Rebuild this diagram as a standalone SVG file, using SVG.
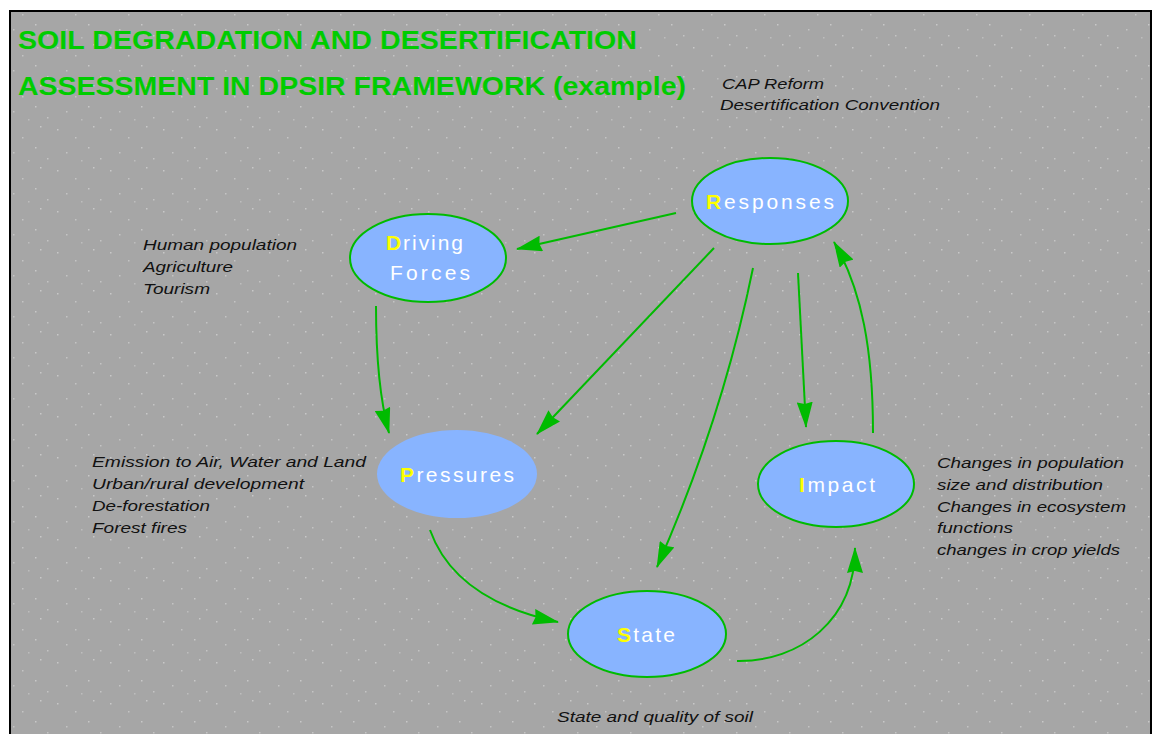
<svg xmlns="http://www.w3.org/2000/svg" width="1157" height="734" viewBox="0 0 1157 734">
<defs>
<pattern id="dots" x="0" y="0" width="53" height="41" patternUnits="userSpaceOnUse">
<rect x="4" y="6" width="1.5" height="1.5" fill="#c8c8c8"/>
<rect x="22" y="14" width="1.5" height="1.5" fill="#c4c4c4"/>
<rect x="40" y="3" width="1.5" height="1.5" fill="#c8c8c8"/>
<rect x="13" y="29" width="1.5" height="1.5" fill="#c4c4c4"/>
<rect x="35" y="24" width="1.5" height="1.5" fill="#c8c8c8"/>
<rect x="47" y="35" width="1.5" height="1.5" fill="#c4c4c4"/>
<rect x="28" y="37" width="1.5" height="1.5" fill="#bdbdbd"/>
</pattern>
<marker id="ah" viewBox="0 0 26 16" markerWidth="26" markerHeight="16" refX="25" refY="8" orient="auto" markerUnits="userSpaceOnUse">
<path d="M0,0 L26,8 L0,16 L2,8 z" fill="#00bb00"/>
</marker>
<style>
.title{font-family:"Liberation Sans Narrow","Liberation Sans",Arial,sans-serif;font-weight:bold;font-size:26px;fill:#00cc00}
.node{fill:#88b4ff;stroke:#00bb00;stroke-width:2}
.nodeNo{fill:#88b4ff}
.lbl{font-family:"Liberation Sans",Arial,sans-serif;font-size:21px;fill:#ffffff}
.ini{fill:#ffff00;font-weight:bold}
.note{font-family:"Liberation Sans",Arial,sans-serif;font-style:italic;font-size:15px;fill:#111111}
.edge{fill:none;stroke:#00bb00;stroke-width:2;marker-end:url(#ah)}
</style>
</defs>
<rect x="0" y="0" width="1157" height="734" fill="#ffffff"/>
<rect x="10" y="11" width="1141" height="730" fill="#a6a6a6" stroke="#000000" stroke-width="2"/>
<rect x="11" y="12" width="1139" height="722" fill="url(#dots)"/>

<g id="title">
<text class="title" x="18" y="49" textLength="619" lengthAdjust="spacingAndGlyphs">SOIL DEGRADATION AND DESERTIFICATION</text>
<text class="title" x="18" y="95" textLength="668" lengthAdjust="spacingAndGlyphs">ASSESSMENT IN DPSIR FRAMEWORK (example)</text>
</g>

<g id="connectors">
<path class="edge" d="M676,213 L517,249"/>
<path class="edge" d="M376,306 C376,360 380,400 389,433"/>
<path class="edge" d="M714,248 L537,434"/>
<path class="edge" d="M753,268 Q722,420 657,567"/>
<path class="edge" d="M798,273 L806,427"/>
<path class="edge" d="M873,433 C873,350 862,290 834,242"/>
<path class="edge" d="M430,530 Q455,600 558,622"/>
<path class="edge" d="M737,661 C800,662 855,620 855,548"/>
</g>

<g id="responses">
<ellipse class="node" cx="770" cy="201" rx="78" ry="43"/>
<text class="lbl" x="706" y="209" textLength="128" lengthAdjust="spacing"><tspan class="ini">R</tspan>esponses</text>
</g>
<g id="driving-forces">
<ellipse class="node" cx="428" cy="258" rx="78" ry="44"/>
<text class="lbl" x="386" y="250" textLength="77" lengthAdjust="spacing"><tspan class="ini">D</tspan>riving</text>
<text class="lbl" x="390" y="280" textLength="80" lengthAdjust="spacing">Forces</text>
</g>
<g id="pressures">
<ellipse class="nodeNo" cx="457" cy="474" rx="80" ry="44"/>
<text class="lbl" x="400" y="482" textLength="114" lengthAdjust="spacing"><tspan class="ini">P</tspan>ressures</text>
</g>
<g id="impact">
<ellipse class="node" cx="836" cy="484" rx="78" ry="43"/>
<text class="lbl" x="799" y="492" textLength="76" lengthAdjust="spacing"><tspan class="ini">I</tspan>mpact</text>
</g>
<g id="state">
<ellipse class="node" cx="647" cy="634" rx="79" ry="43"/>
<text class="lbl" x="617" y="642" textLength="58" lengthAdjust="spacing"><tspan class="ini">S</tspan>tate</text>
</g>

<g id="notes-responses">
<text class="note" x="722" y="89" textLength="102" lengthAdjust="spacingAndGlyphs">CAP Reform</text>
<text class="note" x="720" y="110" textLength="220" lengthAdjust="spacingAndGlyphs">Desertification Convention</text>
</g>
<g id="notes-driving">
<text class="note" x="143" y="250" textLength="154" lengthAdjust="spacingAndGlyphs">Human population</text>
<text class="note" x="143" y="272" textLength="90" lengthAdjust="spacingAndGlyphs">Agriculture</text>
<text class="note" x="143" y="294" textLength="67" lengthAdjust="spacingAndGlyphs">Tourism</text>
</g>
<g id="notes-pressures">
<text class="note" x="92" y="467" textLength="274" lengthAdjust="spacingAndGlyphs">Emission to Air, Water and Land</text>
<text class="note" x="92" y="489" textLength="212" lengthAdjust="spacingAndGlyphs">Urban/rural development</text>
<text class="note" x="92" y="511" textLength="118" lengthAdjust="spacingAndGlyphs">De-forestation</text>
<text class="note" x="92" y="533" textLength="95" lengthAdjust="spacingAndGlyphs">Forest fires</text>
</g>
<g id="notes-impact">
<text class="note" x="937" y="468" textLength="187" lengthAdjust="spacingAndGlyphs">Changes in population</text>
<text class="note" x="937" y="490" textLength="166" lengthAdjust="spacingAndGlyphs">size and distribution</text>
<text class="note" x="937" y="512" textLength="189" lengthAdjust="spacingAndGlyphs">Changes in ecosystem</text>
<text class="note" x="937" y="533" textLength="76" lengthAdjust="spacingAndGlyphs">functions</text>
<text class="note" x="937" y="555" textLength="183" lengthAdjust="spacingAndGlyphs">changes in crop yields</text>
</g>
<g id="notes-state">
<text class="note" x="557" y="722" textLength="196" lengthAdjust="spacingAndGlyphs">State and quality of soil</text>
</g>
</svg>
